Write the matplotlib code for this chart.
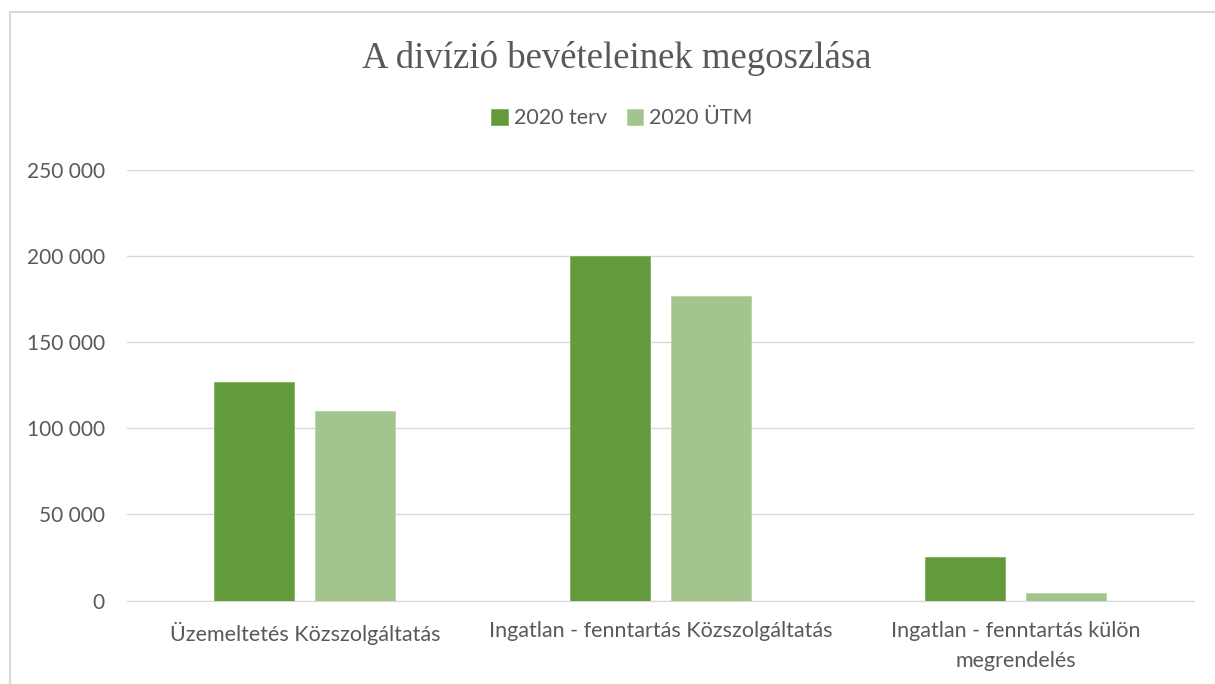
import matplotlib.pyplot as plt
import matplotlib.patches as mpatches
from matplotlib.ticker import FuncFormatter, MultipleLocator
import numpy as np

# adatok
kategoriak = [
    "Üzemeltetés Közszolgáltatás",
    "Ingatlan - fenntartás Közszolgáltatás",
    "Ingatlan - fenntartás külön\nmegrendelés",
]
terv_2020 = [127000, 200000, 25000]
utm_2020 = [110000, 176500, 4600]
sorozatok = ["2020 terv", "2020 ÜTM"]

SZIN_TERV = "#629A3C"
SZIN_UTM = "#A2C58E"
SZURKE = "#595959"

plt.rcParams["font.family"] = ["Lato", "DejaVu Sans"]

fig = plt.figure(figsize=(12.15, 6.84), dpi=100)
ax = fig.add_axes([0.1045, 0.122, 0.878, 0.63])

x = np.arange(len(kategoriak))
w = 0.225
ax.bar(x - 0.142, terv_2020, w, color=SZIN_TERV, edgecolor="#7DB35A", linewidth=0.6,
       label=sorozatok[0], zorder=3)
ax.bar(x + 0.142, utm_2020, w, color=SZIN_UTM, edgecolor="#B4D4A0", linewidth=0.6,
       label=sorozatok[1], zorder=3)

ax.set_xlim(-0.5, 2.5)
ax.set_ylim(0, 250000)
ax.yaxis.set_major_locator(MultipleLocator(50000))
ax.yaxis.set_major_formatter(FuncFormatter(lambda v, p: f"{int(v):,}".replace(",", " ")))
ax.grid(axis="y", color="#D9D9D9", linewidth=1, zorder=0)
for s in ["top", "right", "left"]:
    ax.spines[s].set_visible(False)
ax.spines["bottom"].set_color("#D9D9D9")
ax.tick_params(axis="y", length=0, labelsize=15, colors=SZURKE, pad=16)
ax.tick_params(axis="x", length=0, labelsize=15.5, colors=SZURKE, pad=15)
ax.set_xticks(x)
ax.set_xticklabels(kategoriak, linespacing=1.6)

fig.text(0.508, 0.915, "A divízió bevételeinek megoszlása", ha="center", va="center",
         fontsize=26.5, color=SZURKE, family="Liberation Serif")
fig.legend(loc="center", bbox_to_anchor=(0.512, 0.827), ncol=2, frameon=False,
           fontsize=15.5, labelcolor=SZURKE, handlelength=0.75, handleheight=0.75,
           handletextpad=0.3, columnspacing=0.9)

# keret
fig.patches.append(mpatches.Rectangle((0.0085, -0.1), 1.2, 1.082, transform=fig.transFigure,
                                      fill=False, edgecolor="#D9D9D9", linewidth=1.5))

fig.savefig("out.png", dpi=100)
